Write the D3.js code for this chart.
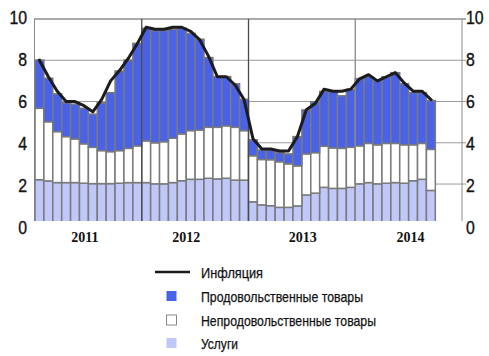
<!DOCTYPE html>
<html>
<head>
<meta charset="utf-8">
<script src="https://cdn.jsdelivr.net/npm/d3@7"></script>
<style>
  html, body { margin: 0; padding: 0; background: #ffffff; }
  svg { display: block; }
</style>
</head>
<body>
<script>
// ---- data (monthly contributions, percentage points) ----
const months = d3.range(45); // Jan of first year .. Sep of fourth year
const services = [2.21,2.15,2.07,2.07,2.07,2.04,2.02,2.02,2.02,2.04,2.07,2.07,
                  2.07,2.01,2.01,2.07,2.16,2.23,2.23,2.28,2.25,2.28,2.19,2.19,
                  1.14,0.99,0.95,0.87,0.87,0.94,1.47,1.56,1.84,1.79,1.79,1.84,
                  2.01,2.07,2.01,2.04,2.07,2.04,2.16,2.23,1.69];
const nonFood = [3.46,2.87,2.47,2.23,2.11,1.91,1.76,1.60,1.55,1.58,1.66,1.78,
                 2.02,1.99,2.04,2.15,2.27,2.36,2.39,2.47,2.50,2.54,2.56,2.40,
                 2.23,2.20,2.23,2.21,2.11,1.94,1.99,1.96,1.99,1.96,1.94,1.94,
                 1.84,1.90,1.89,1.93,1.90,1.86,1.74,1.74,1.99];
const food = [2.34,2.11,1.83,1.64,1.69,1.72,1.61,2.32,2.86,3.86,4.28,4.97,
              5.46,5.44,5.39,5.28,5.12,4.71,4.40,3.38,2.46,2.39,2.11,1.52,
              0.77,0.46,0.47,0.44,0.48,1.42,2.13,2.47,2.66,2.74,2.55,2.81,
              3.26,3.23,3.15,3.23,3.43,2.96,2.53,2.46,2.37];
const inflation = [8.0,7.2,6.5,6.0,6.0,5.8,5.5,6.1,7.0,7.5,8.1,8.8,
                   9.6,9.5,9.5,9.6,9.6,9.4,9.0,8.2,7.2,7.2,6.8,6.1,
                   4.2,3.7,3.7,3.6,3.6,4.3,5.6,5.9,6.6,6.5,6.5,6.6,
                   7.1,7.3,7.0,7.2,7.4,6.9,6.5,6.5,6.1];
const yTicks = [0, 2, 4, 6, 8, 10];
const yearLabels = ["2011", "2012", "2013", "2014"];
const yearLabelMonth = [5.1, 16.5, 29.6, 41.7];
const yearBoundaries = [12, 24, 36];
const seriesNames = ["Инфляция", "Продовольственные товары", "Непродовольственные товары", "Услуги"];

(function () {
// ---- layout ----
const W = 489, H = 356;
const pLeft = 35, pRight = 462, pTop = 19, pBottom = 221;
const colors = { food: "#4a62e8", nonFood: "#ffffff", services: "#bfc8f8" };

const svg = d3.select("body").append("svg").attr("width", W).attr("height", H);

const x = d3.scaleBand().domain(d3.range(48)).range([pLeft, pRight]).padding(0);
const y = d3.scaleLinear().domain([0, 10]).range([225.3, pTop]);
const yLab = d3.scaleLinear().domain([0, 10]).range([228.5, 18.5]);

svg.append("defs").append("clipPath").attr("id", "plotclip")
  .append("rect").attr("x", pLeft - 2).attr("y", pTop - 2)
  .attr("width", pRight - pLeft + 4).attr("height", pBottom - pTop + 2);

// gridlines
svg.append("g").selectAll("line").data(yTicks.filter(d => d > 0)).join("line")
  .attr("x1", pLeft - 1).attr("x2", pRight + 4)
  .attr("y1", d => y(d)).attr("y2", d => y(d))
  .attr("stroke", d => d === 10 ? "#8c8c8c" : "#9a9a9a")
  .attr("stroke-width", d => d === 10 ? 1.5 : 1);

// side axes
svg.append("line").attr("x1", pLeft - 0.5).attr("x2", pLeft - 0.5).attr("y1", pTop).attr("y2", pBottom)
  .attr("stroke", "#8c8c8c").attr("stroke-width", 1);
svg.append("line").attr("x1", pRight).attr("x2", pRight).attr("y1", pTop).attr("y2", pBottom)
  .attr("stroke", "#8c8c8c").attr("stroke-width", 1);

// stacked bars
const rows = months.map(i => ({ i, services: services[i], nonFood: nonFood[i], food: food[i] }));
const stack = d3.stack().keys(["services", "nonFood", "food"])(rows);
const barG = svg.append("g").attr("clip-path", "url(#plotclip)");
barG.selectAll("g").data(stack).join("g")
  .attr("fill", d => colors[d.key])
  .selectAll("rect").data(d => d).join("rect")
  .attr("x", d => x(d.data.i))
  .attr("width", x.bandwidth())
  .attr("y", d => y(d[1]))
  .attr("height", d => y(d[0]) - y(d[1]))
  .attr("stroke", "#7a7a7a")
  .attr("stroke-width", 1.5);

// year boundary lines
svg.append("g").selectAll("line").data(yearBoundaries).join("line")
  .attr("x1", d => x(d)).attr("x2", d => x(d))
  .attr("y1", pTop).attr("y2", pBottom)
  .attr("stroke", (d, i) => i === 2 ? "#8a8a8a" : "#4a4a4a")
  .attr("stroke-width", 1.3);

// inflation line
const line = d3.line()
  .x((d, i) => x(i) + x.bandwidth() / 2)
  .y(d => y(d));
svg.append("path").datum(inflation)
  .attr("d", line)
  .attr("fill", "none")
  .attr("stroke", "#1c1c1c")
  .attr("stroke-width", 3)
  .attr("stroke-linejoin", "round")
  .attr("stroke-linecap", "square");

// y labels left & right (slightly condensed)
const labFont = "'Liberation Sans', Arial, sans-serif";
svg.append("g").selectAll("text").data(yTicks).join("text")
  .attr("transform", d => `translate(27,${yLab(d)}) scale(0.88,1)`)
  .attr("text-anchor", "end").attr("dominant-baseline", "central")
  .attr("font-family", labFont).attr("font-size", 18).attr("fill", "#111")
  .attr("stroke", "#111").attr("stroke-width", 0.35)
  .text(d => d);
svg.append("g").selectAll("text").data(yTicks).join("text")
  .attr("transform", d => `translate(466,${yLab(d)}) scale(0.88,1)`)
  .attr("text-anchor", "start").attr("dominant-baseline", "central")
  .attr("font-family", labFont).attr("font-size", 18).attr("fill", "#111")
  .attr("stroke", "#111").attr("stroke-width", 0.35)
  .text(d => d);

// year labels
svg.append("g").selectAll("text").data(yearLabels).join("text")
  .attr("x", (d, i) => pLeft + yearLabelMonth[i] * x.step() + x.bandwidth() / 2)
  .attr("y", 242)
  .attr("text-anchor", "middle")
  .attr("font-family", "'Liberation Serif', 'Times New Roman', serif")
  .attr("font-weight", "bold").attr("font-size", 14).attr("fill", "#111")
  .text(d => d);

// legend
const legFont = "'Liberation Sans Narrow', 'Arial Narrow', 'Liberation Sans', sans-serif";
const legY = [272, 296, 320, 343];
const legLen = [62, 162, 175, 37];
const leg = svg.append("g");
leg.append("line").attr("x1", 155).attr("x2", 190).attr("y1", legY[0]).attr("y2", legY[0])
  .attr("stroke", "#1c1c1c").attr("stroke-width", 2.5);
const swatch = [colors.food, colors.nonFood, colors.services];
leg.selectAll("rect").data(swatch).join("rect")
  .attr("x", 166.5).attr("y", (d, i) => legY[i + 1] - 5)
  .attr("width", 10).attr("height", 10)
  .attr("fill", d => d)
  .attr("stroke", (d, i) => i === 1 ? "#8a8a8a" : "none").attr("stroke-width", 1);
leg.selectAll("text").data(seriesNames).join("text")
  .attr("x", 201).attr("y", (d, i) => legY[i])
  .attr("dominant-baseline", "central")
  .attr("font-family", legFont).attr("font-size", 15).attr("fill", "#111")
  .attr("stroke", "#111").attr("stroke-width", 0.25)
  .attr("textLength", (d, i) => legLen[i]).attr("lengthAdjust", "spacingAndGlyphs")
  .text(d => d);
})();
</script>
</body>
</html>
